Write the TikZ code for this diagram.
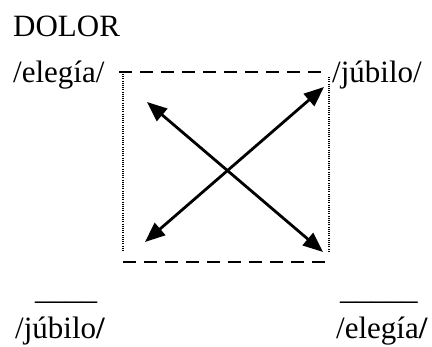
\documentclass[tikz,border=0pt]{standalone}
\usepackage{fontspec}
\setmainfont{Liberation Serif}
\usetikzlibrary{arrows.meta}
\tikzset{
  wordLabel/.style={anchor=base west,inner sep=0pt,font=\fontsize{31}{36}\selectfont},
  dashEdge/.style={line width=2.8pt,dash pattern=on 13pt off 8pt},
  dotEdge/.style={line width=1.5pt,dash pattern=on 1pt off 1.2pt},
  swapArrow/.style={line width=2.8pt,{Triangle[length=20pt,width=16pt]}-{Triangle[length=20pt,width=16pt]}}
}
\begin{document}
\begin{tikzpicture}[x=1pt,y=-1pt]
\useasboundingbox (0,0) rectangle (432,347);
% labels
\node[wordLabel] (title) at (13,37) {DOLOR};
\node[wordLabel] (elegiaTop) at (13,83) {/elegía/};
\node[wordLabel] (jubiloTop) at (332,83) {/júbilo/};
\node[wordLabel] (blankLeft) at (35,300) {\_\_\_\_};
\node[wordLabel] (blankRight) at (340,300) {\_\_\_\_\_};
\node[wordLabel] (jubiloBot) at (15,339) {/júbilo\textbf{/}};
\node[wordLabel] (elegiaBot) at (336,339) {/elegía\textbf{/}};
% frame
\coordinate (topL) at (119,72);
\coordinate (topR) at (324,72);
\coordinate (botL) at (123,262);
\coordinate (botR) at (326,262);
\draw[dashEdge] (topL) -- (topR);
\draw[dashEdge] (botL) -- (botR);
\draw[dotEdge] (123,74) -- (123,252);
\draw[dotEdge] (329,77) -- (329,253);
% crossing arrows
\coordinate (upL) at (147,102);
\coordinate (lowR) at (323,252);
\coordinate (lowL) at (145,242);
\coordinate (upR) at (324,87);
\draw[swapArrow] (upL) -- (lowR);
\draw[swapArrow] (lowL) -- (upR);
\end{tikzpicture}
\end{document}
